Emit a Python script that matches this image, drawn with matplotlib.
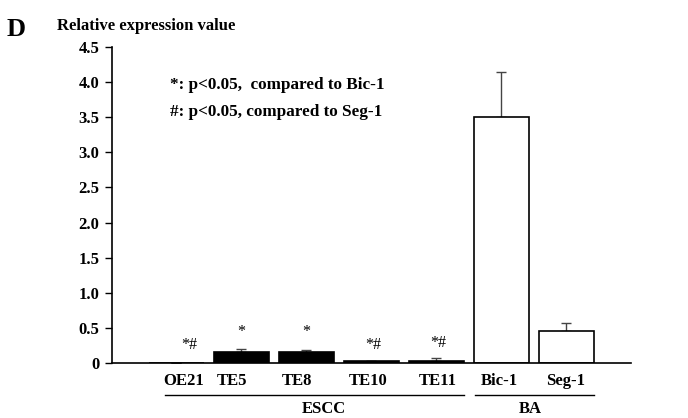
import numpy as np
import matplotlib.pyplot as plt

plt.rcParams['font.family'] = ['Liberation Serif', 'DejaVu Serif']

# data
cell_lines = ["OE21", "TE5", "TE8", "TE10", "TE11", "Bic-1", "Seg-1"]
expression = [0.0, 0.16, 0.16, 0.03, 0.03, 3.51, 0.455]
errors = [0.0, 0.035, 0.025, 0.0, 0.045, 0.64, 0.11]
bar_colors = ["black", "black", "black", "black", "black", "white", "white"]
marks = ["*#", "*", "*", "*#", "*#", "", ""]
mark_heights = [0.26, 0.44, 0.44, 0.26, 0.28, 0, 0]
groups = [("ESCC", 0, 4), ("BA", 5, 6)]

# small horizontal shifts of labels and marks, as in the original
label_shift = [0.11, -0.14, -0.14, -0.05, 0.02, -0.02, 0.0]
mark_shift = [0.2, 0.0, 0.0, 0.03, 0.03, 0.0, 0.0]

fig = plt.figure(figsize=(6.88, 4.18), dpi=100)
ax = fig.add_axes([0.1628, 0.1316, 0.7544, 0.756])

x = np.arange(len(cell_lines))
ax.bar(x, expression, width=0.846, color=bar_colors, edgecolor="black", linewidth=1.2, zorder=2)
ax.errorbar(x, expression, yerr=[np.zeros(len(errors)), errors], fmt="none",
            ecolor="#444444", elinewidth=1.0, capsize=3.5, capthick=1.0, zorder=1)

for xi, m, h, dx in zip(x, marks, mark_heights, mark_shift):
    if m:
        ax.text(xi + dx, h, m, ha="center", va="center", fontsize=11.5)

ax.set_xlim(-0.985, 7.0)
ax.set_ylim(0, 4.5)
ax.set_yticks(np.arange(0, 4.6, 0.5))
ax.set_yticklabels(["0"] + [f"{v:.1f}" for v in np.arange(0.5, 4.6, 0.5)],
                   fontsize=12, fontweight="bold")
ax.set_xticks(x + np.array(label_shift))
ax.set_xticklabels(cell_lines, fontsize=12, fontweight="bold")
ax.tick_params(axis="x", length=0, pad=7)
ax.tick_params(axis="y", direction="out", length=5, width=1.0, pad=4)

for s in ["top", "right"]:
    ax.spines[s].set_visible(False)
ax.spines["left"].set_linewidth(1.2)
ax.spines["bottom"].set_linewidth(1.2)

# group brackets below the labels
bracket_ends = {"ESCC": (-0.17, 4.43), "BA": (4.6, 6.43)}
label_x = {"ESCC": 2.28, "BA": 5.45}
for name, i0, i1 in groups:
    x0, x1 = bracket_ends[name]
    ax.plot([x0, x1], [-0.455, -0.455], color="black", linewidth=1.0, clip_on=False)
    ax.text(label_x[name], -0.655, name, ha="center", va="center", fontsize=12, fontweight="bold")

ax.text(-0.09, 3.96, "*: p<0.05,  compared to Bic-1", fontsize=12.3, fontweight="bold", va="center")
ax.text(-0.09, 3.575, "#: p<0.05, compared to Seg-1", fontsize=12.3, fontweight="bold", va="center")

fig.text(57 / 688, 1 - 26 / 418, "Relative expression value", fontsize=12, fontweight="bold", va="center")
fig.text(7 / 688, 1 - 29 / 418, "D", fontsize=19, fontweight="bold", va="center")

fig.savefig("out.png", dpi=100)
